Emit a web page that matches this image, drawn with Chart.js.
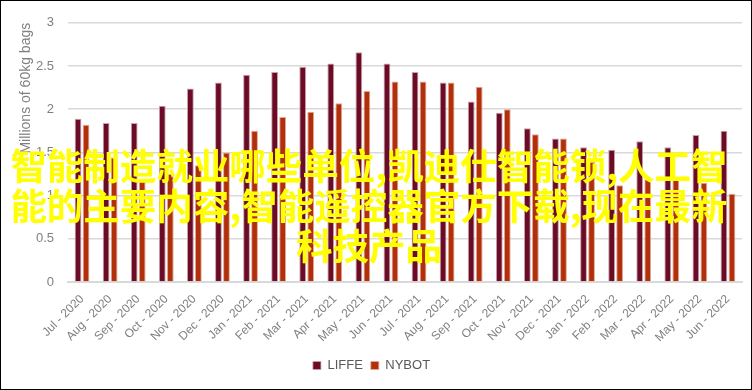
<!DOCTYPE html>
<html>
<head>
<meta charset="utf-8">
<script src="https://cdn.jsdelivr.net/npm/chart.js@4/dist/chart.umd.min.js"></script>
<style>
    body { margin: 0; background: #fff; }
    #wrap { position: relative; width: 750px; height: 388px; border: 1px solid #000; }
    #overlay {
        position: absolute; left: -7px; top: 144px; width: 750px;
        text-align: center; white-space: nowrap;
        font-family: "Noto Sans CJK SC", sans-serif; font-weight: bold;
        font-size: 36.5px; line-height: 40px; color: #ffff00;
        pointer-events: none;
    }
</style>
</head>
<body>
<div id="wrap">
    <canvas id="myChart" width="750" height="388"></canvas>
    <div id="overlay">智能制造就业哪些单位,凯迪仕智能锁,人工智<br>能的主要内容,智能遥控器官方下载,现在最新<br>科技产品</div>
</div>
<script>
// Months shown on the x axis
const months = ['Jul - 2020', 'Aug - 2020', 'Sep - 2020', 'Oct - 2020', 'Nov - 2020', 'Dec - 2020',
    'Jan - 2021', 'Feb - 2021', 'Mar - 2021', 'Apr - 2021', 'May - 2021', 'Jun - 2021',
    'Jul - 2021', 'Aug - 2021', 'Sep - 2021', 'Oct - 2021', 'Nov - 2021', 'Dec - 2021',
    'Jan - 2022', 'Feb - 2022', 'Mar - 2022', 'Apr - 2022', 'May - 2022', 'Jun - 2022'];

// Stocks in millions of 60kg bags
const liffe = [1.89, 1.84, 1.84, 2.04, 2.24, 2.31, 2.40, 2.43, 2.49, 2.53, 2.66, 2.53,
    2.43, 2.31, 2.09, 1.96, 1.78, 1.66, 1.56, 1.53, 1.63, 1.56, 1.70, 1.75];
const nybot = [1.82, 1.44, 1.18, 1.25, 1.35, 1.50, 1.75, 1.91, 1.97, 2.07, 2.21, 2.32,
    2.32, 2.31, 2.26, 2.00, 1.71, 1.66, 1.39, 1.12, 1.19, 1.19, 1.15, 1.02];

const yTicks = [0, 0.5, 1, 1.5, 2, 2.5, 3];

const axisFont = { family: 'Liberation Sans', size: 12 };

new Chart(document.getElementById('myChart').getContext('2d'), {
    type: 'bar',
    data: {
        labels: months,
        datasets: [{
            label: 'LIFFE',
            data: liffe,
            backgroundColor: '#6b0b25',
            borderColor: '#c9a1ab',
            borderWidth: { left: 1, right: 1, top: 1, bottom: 0 },
            categoryPercentage: 0.57,
            barPercentage: 0.85
        }, {
            label: 'NYBOT',
            data: nybot,
            backgroundColor: '#b22f0b',
            borderColor: '#e0a896',
            borderWidth: { left: 1, right: 1, top: 1, bottom: 0 },
            categoryPercentage: 0.57,
            barPercentage: 0.85
        }]
    },
    options: {
        responsive: false,
        animation: false,
        layout: { padding: { top: 20, right: 9, bottom: 7, left: 0 } },
        scales: {
            x: {
                grid: { display: false },
                border: { color: '#d9d9d9', width: 2 },
                ticks: {
                    color: '#808080',
                    font: axisFont,
                    minRotation: 45,
                    maxRotation: 45,
                    autoSkip: false,
                    padding: 2
                },
                afterFit: function (scale) { scale.height = 69; }
            },
            y: {
                min: 0,
                max: 3,
                afterBuildTicks: function (scale) {
                    scale.ticks = yTicks.map(v => ({ value: v }));
                },
                grid: { color: '#d9d9d9', lineWidth: 1.5, drawTicks: false },
                border: { display: false },
                ticks: {
                    color: '#808080',
                    font: { family: 'Liberation Sans', size: 13 },
                    padding: 14,
                    callback: function (value) { return String(value); }
                },
                title: {
                    display: true,
                    text: 'Millions of 60kg bags',
                    align: 'end',
                    color: '#808080',
                    font: { family: 'Liberation Sans', size: 14 },
                    padding: { top: 17, bottom: 0 }
                },
                afterFit: function (scale) { scale.width = 67; }
            }
        },
        plugins: {
            legend: {
                position: 'bottom',
                labels: {
                    color: '#595959',
                    font: { family: 'Liberation Sans', size: 13 },
                    boxWidth: 8,
                    boxHeight: 8,
                    padding: 8
                }
            },
            tooltip: { enabled: false }
        }
    }
});
</script>
</body>
</html>
